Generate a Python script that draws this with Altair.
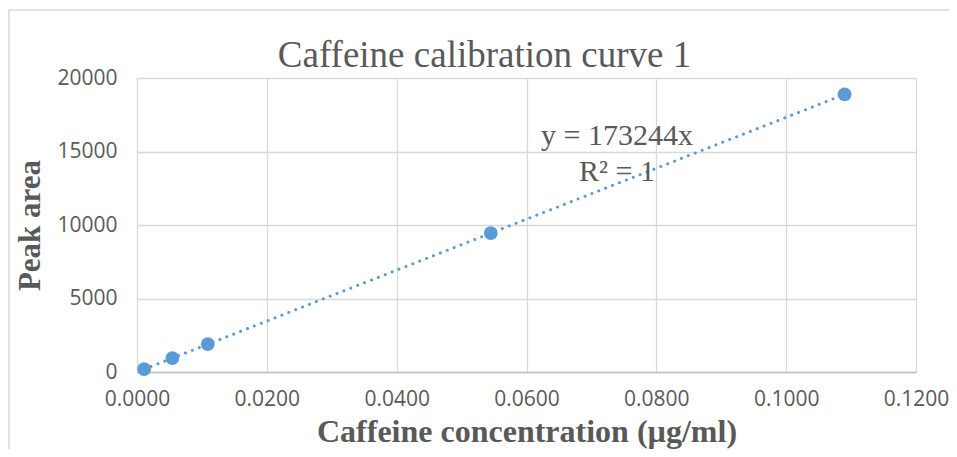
import altair as alt
import pandas as pd

# Data
conc = [0.00109, 0.00545, 0.0109, 0.0545, 0.109]
area = [190, 945, 1890, 9450, 18890]
slope = 173244
x_ticks = [0, 0.02, 0.04, 0.06, 0.08, 0.10, 0.12]
y_ticks = [0, 5000, 10000, 15000, 20000]

pts = pd.DataFrame({"conc": conc, "area": area})
trend = pd.DataFrame({"conc": [conc[0], conc[-1]],
                      "area": [slope * conc[0], slope * conc[-1]]})
eq = pd.DataFrame({"line": [f"y = {slope}x", "R² = 1"], "row": [0, 1]})

GRAY_TXT = "#595959"
BLUE = "#5b9bd5"

xscale = alt.Scale(domain=[0, 0.12], nice=False, zero=True)
yscale = alt.Scale(domain=[0, 20000], nice=False)

xaxis = alt.Axis(values=x_ticks, format=".4f", title="Caffeine concentration (µg/ml)",
                 labelFont="Open Sans", labelFontSize=21, labelColor=GRAY_TXT,
                 labelPadding=16, labelFlush=False, ticks=False,
                 domainColor="#bfbfbf", domainWidth=1.5,
                 gridColor="#d9d9d9", gridWidth=1.3,
                 titleFont="Liberation Serif", titleFontSize=32, titleFontWeight="bold",
                 titleColor=GRAY_TXT, titlePadding=7)
yaxis = alt.Axis(values=y_ticks, format="d", title="Peak area",
                 labelFont="Open Sans", labelFontSize=21, labelColor=GRAY_TXT,
                 labelPadding=20, labelFlush=False, ticks=False, domain=False,
                 gridColor="#d9d9d9", gridWidth=1.3,
                 titleFont="Liberation Serif", titleFontSize=31, titleFontWeight="bold",
                 titleColor=GRAY_TXT, titlePadding=10)

frame = alt.Chart(pd.DataFrame({"a": [0]})).mark_rect(
    fill=None, stroke="#d9d9d9", strokeWidth=1.5
).encode(x=alt.value(-128), x2=alt.value(1000), y=alt.value(-68), y2=alt.value(600))

line = alt.Chart(trend).mark_line(
    color=BLUE, strokeWidth=3, strokeDash=[0.1, 7.3], strokeCap="round"
).encode(x=alt.X("conc:Q", scale=xscale, axis=xaxis),
         y=alt.Y("area:Q", scale=yscale, axis=yaxis))

points = alt.Chart(pts).mark_circle(color=BLUE, size=190, opacity=1).encode(
    x=alt.X("conc:Q", scale=xscale),
    y=alt.Y("area:Q", scale=yscale))

eq_text = alt.Chart(eq).transform_calculate(
    ypos="67 + datum.row * 36"
).mark_text(font="Liberation Serif", fontSize=30, color=GRAY_TXT,
            align="center", baseline="alphabetic").encode(
    text="line:N", x=alt.value(480), y=alt.Y("ypos:Q", scale=None, axis=None))

chart = alt.layer(frame, line, points, eq_text).properties(
    width=779, height=294,
    title=alt.TitleParams("Caffeine calibration curve 1", font="Liberation Serif",
                          fontSize=37, fontWeight="normal", color=GRAY_TXT,
                          anchor="middle", dx=-42, offset=0, dy=95,
                          baseline="alphabetic"),
    autosize=alt.AutoSizeParams(type="none"),
    padding={"left": 129, "top": 70, "right": 33, "bottom": 77},
).configure_view(stroke=None).configure(background="white")

chart.save("out.html", embed_options={"renderer": "svg", "actions": False})
